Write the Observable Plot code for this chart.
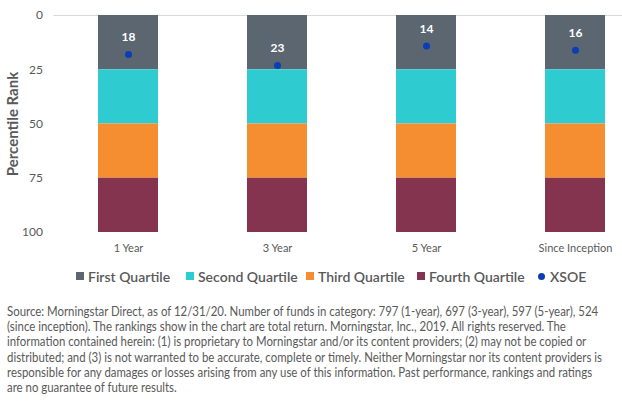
<!DOCTYPE html>
<html>
<head>
<meta charset="utf-8">
<script src="https://cdn.jsdelivr.net/npm/d3@7"></script>
<script src="https://cdn.jsdelivr.net/npm/@observablehq/plot@0.6"></script>
<style>
  html, body { margin: 0; padding: 0; background: #fff; overflow: hidden; }
  body { width: 622px; height: 403px; position: relative; font-family: Lato, "Open Sans", sans-serif; }
  #chart { position: absolute; left: 0; top: 0; }
  #legend { position: absolute; left: 0; top: 266px; width: 622px; height: 20px; color: #595959; font-size: 14px; font-weight: 600; }
  .li { position: absolute; top: 0; white-space: nowrap; display: flex; align-items: center; height: 20px; }
  .sw { display: inline-block; width: 8px; height: 8px; margin-right: 4px; }
  .dot { display: inline-block; width: 7px; height: 7px; border-radius: 50%; margin-right: 5px; }
  #caption { position: absolute; left: 7px; top: 304px; color: #595959; font-size: 12.8px; line-height: 15.2px; transform-origin: 0 0; }
  #caption div { white-space: nowrap; }
</style>
</head>
<body>
<div id="chart"></div>
<div id="legend"></div>
<div id="caption"></div>
<script>
const periods = ["1 Year", "3 Year", "5 Year", "Since Inception"];
const quartiles = ["First Quartile", "Second Quartile", "Third Quartile", "Fourth Quartile"];
const quartileStart = [0, 25, 50, 75];
const quartileEnd = [25, 50, 75, 100];
const quartileColors = ["#5B6670", "#2ECBD1", "#F58E31", "#84344F"];
const xsoeRank = [18, 23, 14, 16];
const yTicks = [0, 25, 50, 75, 100];
const captionLines = [
  "Source: Morningstar Direct, as of 12/31/20. Number of funds in category: 797 (1-year), 697 (3-year), 597 (5-year), 524",
  "(since inception). The rankings show in the chart are total return. Morningstar, Inc., 2019. All rights reserved. The",
  "information contained herein: (1) is proprietary to Morningstar and/or its content providers; (2) may not be copied or",
  "distributed; and (3) is not warranted to be accurate, complete or timely. Neither Morningstar nor its content providers is",
  "responsible for any damages or losses arising from any use of this information. Past performance, rankings and ratings",
  "are no guarantee of future results."
];
const legendX = [76, 186, 306, 417, 538];

const segs = [];
periods.forEach(p => quartiles.forEach((q, i) => segs.push({period: p, quartile: q, y1: quartileStart[i], y2: quartileEnd[i]})));
const pts = periods.map((p, i) => ({period: p, rank: xsoeRank[i]}));

const chart = Plot.plot({
  width: 622,
  height: 258,
  marginTop: 15,
  marginBottom: 26,
  marginLeft: 53.5,
  marginRight: 0,
  style: {fontFamily: "Lato, sans-serif", fontSize: "11px", color: "#595959", background: "transparent"},
  x: {domain: periods, range: [53.5, 649.5], paddingInner: 0.597, paddingOuter: 0.2985, label: null},
  y: {domain: [0, 100], range: [15, 232], label: null},
  color: {domain: quartiles, range: quartileColors},
  marks: [
    Plot.ruleY([0], {stroke: "#D9D9D9", strokeWidth: 1}),
    Plot.barY(segs, {x: "period", y1: "y1", y2: "y2", fill: "quartile"}),
    Plot.dot(pts, {x: "period", y: "rank", r: 3.5, fill: "#0A3EB5", stroke: null}),
    Plot.text(pts, {x: "period", y: "rank", text: d => String(d.rank), dy: -17, fill: "white", fontWeight: "bold", fontSize: 12}),
    Plot.axisX({tickSize: 0, tickPadding: 12, fill: "#595959", fontSize: 11}),
    Plot.axisY({ticks: yTicks, tickSize: 0, tickPadding: 11, fill: "#595959", fontSize: 12}),
    Plot.text(["Percentile Rank"], {frameAnchor: "left", dx: -41, rotate: -90, textAnchor: "middle", fontWeight: "bold", fontSize: 15, fill: "#595959"})
  ]
});
document.getElementById("chart").appendChild(chart);

const legend = document.getElementById("legend");
quartiles.forEach((q, i) => {
  const el = document.createElement("div");
  el.className = "li";
  el.style.left = legendX[i] + "px";
  el.innerHTML = `<span class="sw" style="background:${quartileColors[i]}"></span>${q}`;
  legend.appendChild(el);
});
const xl = document.createElement("div");
xl.className = "li";
xl.style.left = legendX[4] + "px";
xl.innerHTML = `<span class="dot" style="background:#0A3EB5"></span>XSOE`;
legend.appendChild(xl);

const cap = document.getElementById("caption");
captionLines.forEach(t => { const d = document.createElement("div"); d.textContent = t; cap.appendChild(d); });
// fit first caption line to the reference width (7px .. 602px)
const firstW = cap.firstChild.getBoundingClientRect().width;
cap.style.transform = `scaleX(${595 / firstW})`;
</script>
</body>
</html>
